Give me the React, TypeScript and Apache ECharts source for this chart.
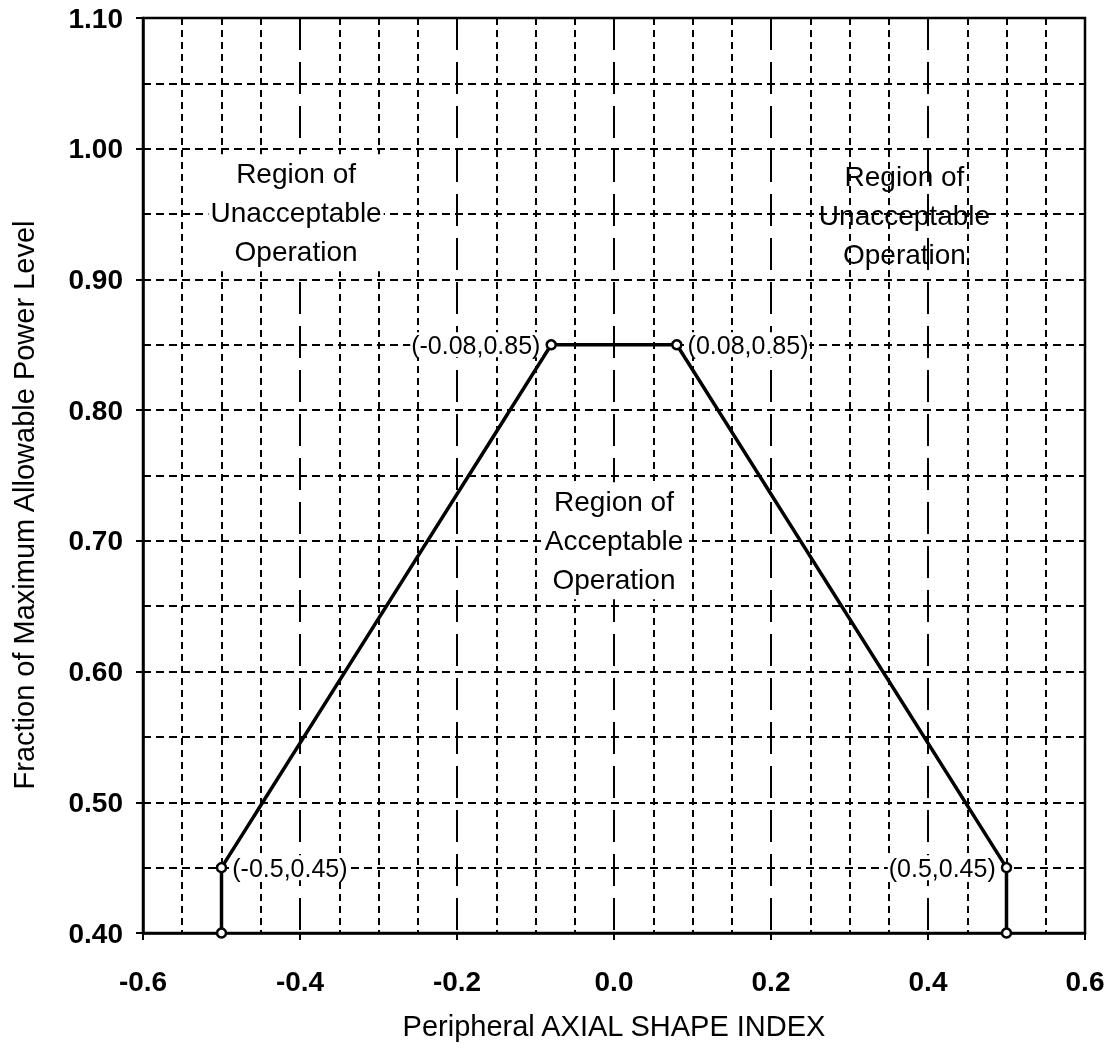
import React, { useEffect, useRef } from "react";
import * as echarts from "echarts";

// Data
const pointX = [-0.5, -0.5, -0.08, 0.08, 0.5, 0.5];
const pointY = [0.4, 0.45, 0.85, 0.85, 0.45, 0.4];
const pointLabels = ["", "(-0.5,0.45)", "(-0.08,0.85)", "(0.08,0.85)", "(0.5,0.45)", ""];

const regionX = [-0.405, 0.37, 0.0];
const regionY = [0.951, 0.949, 0.70];
const regionText = [
  "Region of\nUnacceptable\nOperation",
  "Region of\nUnacceptable\nOperation",
  "Region of\nAcceptable\nOperation",
];

const xTickLabels = ["-0.6", "-0.4", "-0.2", "0.0", "0.2", "0.4", "0.6"];
const yTickLabels = ["0.40", "0.50", "0.60", "0.70", "0.80", "0.90", "1.00", "1.10"];

const xAxisName = "Peripheral AXIAL SHAPE INDEX";
const yAxisName = "Fraction of Maximum Allowable Power Level";

const FONT = "'Liberation Sans', Arial, Helvetica, sans-serif";

export default function App() {
  const ref = useRef<HTMLDivElement>(null);

  useEffect(() => {
    if (!ref.current) return;
    const chart = echarts.init(ref.current, undefined, { renderer: "svg" });

    const labelPos = ["right", "right", "left", "right", "left", "right"];
    const lineData = pointX.map((x, i) => ({
      value: [x, pointY[i]],
      label: {
        show: pointLabels[i] !== "",
        formatter: pointLabels[i],
        position: labelPos[i],
        distance: 4,
        color: "#000",
        fontFamily: FONT,
        fontSize: 25,
        backgroundColor: "#fff",
        padding: [0, 1],
      },
    }));

    const regionData = regionX.map((x, i) => ({
      value: [x, regionY[i]],
      label: {
        show: true,
        formatter: regionText[i],
        position: "inside",
        color: "#000",
        fontFamily: FONT,
        fontSize: 28,
        lineHeight: 39,
        align: "center",
        verticalAlign: "middle",
        backgroundColor: i === 1 ? "transparent" : "#fff",
        padding: [0, 2],
      },
    }));

    const xIdx = (v: number) => Math.round((v + 0.6) / 0.2);
    const yIdx = (v: number) => Math.round((v - 0.4) / 0.1);

    chart.setOption({
      animation: false,
      grid: {
        left: 143,
        right: 25,
        top: 18,
        bottom: 116,
        show: true,
        borderColor: "#000",
        borderWidth: 2.5,
        backgroundColor: "transparent",
      },
      xAxis: {
        type: "value",
        min: -0.6,
        max: 0.6,
        interval: 0.2,
        name: xAxisName,
        nameLocation: "middle",
        nameGap: 78,
        nameTextStyle: { fontFamily: FONT, fontSize: 29, color: "#000" },
        axisLine: { show: true, onZero: false, lineStyle: { color: "#000", width: 2.5 } },
        axisTick: { show: true, length: 7, lineStyle: { color: "#000", width: 2 } },
        axisLabel: {
          margin: 34,
          fontFamily: FONT,
          fontSize: 28,
          fontWeight: "bold",
          color: "#000",
          formatter: (v: number) => xTickLabels[xIdx(v)] ?? "",
        },
        splitLine: {
          show: true,
          lineStyle: { color: "#000", width: 2, type: [32, 12] },
        },
        minorTick: { show: false, splitNumber: 4 },
        minorSplitLine: {
          show: true,
          lineStyle: { color: "#000", width: 2, type: [7, 5] },
        },
      },
      yAxis: {
        type: "value",
        min: 0.4,
        max: 1.1,
        interval: 0.1,
        axisLine: { show: true, onZero: false, lineStyle: { color: "#000", width: 2.5 } },
        axisTick: { show: true, length: 7, lineStyle: { color: "#000", width: 2 } },
        axisLabel: {
          margin: 20,
          fontFamily: FONT,
          fontSize: 28,
          fontWeight: "bold",
          color: "#000",
          formatter: (v: number) => yTickLabels[yIdx(v)] ?? "",
        },
        splitLine: {
          show: true,
          lineStyle: { color: "#000", width: 2, type: [8, 5] },
        },
        minorTick: { show: false, splitNumber: 2 },
        minorSplitLine: {
          show: true,
          lineStyle: { color: "#000", width: 2, type: [8, 5] },
        },
      },
      graphic: [
        {
          type: "text",
          x: 24,
          y: 505,
          rotation: Math.PI / 2,
          style: {
            text: yAxisName,
            fontFamily: FONT,
            fontSize: 29,
            fill: "#000",
            align: "center",
            verticalAlign: "middle",
          },
          z: 10,
        },
      ],
      series: [
        {
          type: "line",
          data: lineData,
          symbol: "circle",
          symbolSize: 9,
          showAllSymbol: true,
          itemStyle: { color: "#fff", borderColor: "#000", borderWidth: 2.5 },
          lineStyle: { color: "#000", width: 3.5 },
          z: 5,
        },
        {
          type: "scatter",
          data: regionData,
          symbolSize: 0,
          itemStyle: { opacity: 1, color: "transparent" },
          silent: true,
          z: 4,
        },
      ],
    });

    return () => chart.dispose();
  }, []);

  return (
    <div
      ref={ref}
      style={{ position: "fixed", left: 0, top: 0, width: 1110, height: 1049 }}
    />
  );
}
